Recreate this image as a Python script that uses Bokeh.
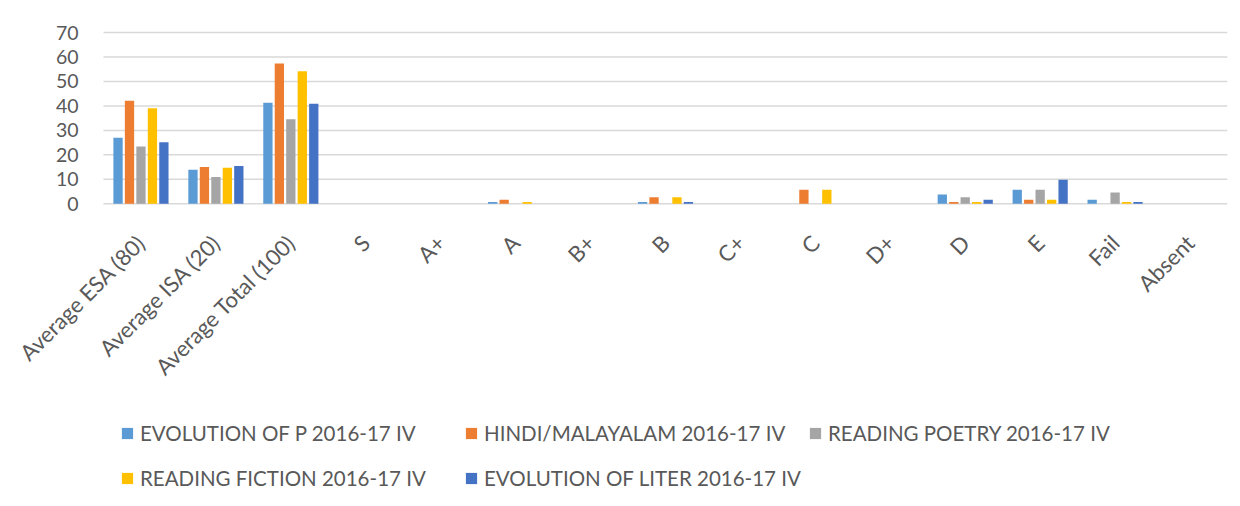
from bokeh.plotting import figure
from bokeh.models import Range1d, Legend, LegendItem, ColumnDataSource
from bokeh.core.properties import value
from bokeh.embed import file_html
from bokeh.resources import INLINE
import math

categories = ["Average ESA (80)", "Average ISA (20)", "Average Total (100)", "S", "A+", "A",
              "B+", "B", "C+", "C", "D+", "D", "E", "Fail", "Absent"]
series_names = ["EVOLUTION OF P 2016-17 IV", "HINDI/MALAYALAM 2016-17 IV",
                "READING POETRY 2016-17 IV", "READING FICTION 2016-17 IV",
                "EVOLUTION OF LITER 2016-17 IV"]
evolution_p = [27.0, 13.9, 41.3, 0, 0, 0.7, 0, 0.7, 0, 0, 0, 3.8, 5.7, 1.7, 0]
hindi_mal = [42.1, 15.0, 57.3, 0, 0, 1.7, 0, 2.7, 0, 5.7, 0, 0.7, 1.7, 0, 0]
reading_poetry = [23.4, 11.0, 34.5, 0, 0, 0, 0, 0, 0, 0, 0, 2.7, 5.7, 4.6, 0]
reading_fiction = [39.0, 14.7, 54.2, 0, 0, 0.7, 0, 2.7, 0, 5.7, 0, 0.7, 1.7, 0.7, 0]
evolution_liter = [25.2, 15.4, 40.9, 0, 0, 0, 0, 0.7, 0, 0, 0, 1.7, 9.8, 0.7, 0]
y_ticks = [0, 10, 20, 30, 40, 50, 60, 70]

colors = ["#5B9BD5", "#ED7D31", "#A5A5A5", "#FFC000", "#4472C4"]
values = [evolution_p, hindi_mal, reading_poetry, reading_fiction, evolution_liter]

FONT = "Lato"
TXT = "#595959"
GRID = "#D9D9D9"

n_cat = len(categories)
idx = list(range(n_cat))
cat_src = ColumnDataSource({"x": idx, "zero": [0] * n_cat, "label": categories})

# layout geometry (pixels)
px_per_cat = 1124 / n_cat
px_per_unit = 171.3 / 70
left_px = 93                       # room left of the first category for labels
top_px = 12                        # room above the top gridline for its label
frame_w = 1217
frame_h = 475
x_start = -0.5 - left_px / px_per_cat
y_end = 70 + top_px / px_per_unit
y_start = y_end - frame_h / px_per_unit

p = figure(frame_width=frame_w, frame_height=frame_h,
           x_range=Range1d(x_start, n_cat - 0.5), y_range=Range1d(y_start, y_end),
           output_backend="svg", toolbar_location=None,
           x_axis_location=None, y_axis_location=None,
           min_border_left=10, min_border_right=5, min_border_top=20, min_border_bottom=0)
p.outline_line_color = None
p.grid.visible = False

# value gridlines across the category span
p.segment(x0=[-0.5] * len(y_ticks), x1=[n_cat - 0.5] * len(y_ticks), y0=y_ticks, y1=y_ticks,
          line_color=GRID, line_width=1.5)

# value tick labels
p.text(x=[-0.5] * len(y_ticks), y=y_ticks, text=[str(t) for t in y_ticks], x_offset=-25,
       text_align="right", text_baseline="middle",
       text_font=value(FONT), text_font_size=value("19.5px"), text_color=TXT)

pitch = 0.153
items = []
for i, (v, c, n) in enumerate(zip(values, colors, series_names)):
    src = ColumnDataSource({"x": [j + (i - 2) * pitch for j in idx], "top": v})
    r = p.vbar(x="x", top="top", width=0.124, source=src, fill_color=c, line_color=None)
    items.append(LegendItem(label=n, renderers=[r]))

# category labels, rotated 45 degrees, ending just under each category
p.text(x="x", y="zero", text="label", source=cat_src, angle=math.pi / 4,
       text_align="right", text_baseline="middle", x_offset=0, y_offset=35,
       text_font=value(FONT), text_font_size=value("22px"), text_color=TXT)

common = dict(orientation="horizontal", label_text_font=FONT, label_text_font_size="20.5px",
              label_text_color=TXT, glyph_width=14, glyph_height=14, label_standoff=6,
              spacing=6, label_height=21, label_width=318, border_line_color=None,
              background_fill_alpha=0, margin=0, padding=0)
legend1 = Legend(items=items[:3], location=(110, 50), **common)
legend2 = Legend(items=items[3:], location=(110, 5), **common)
p.add_layout(legend1, "center")
p.add_layout(legend2, "center")

open("out.html", "w").write(file_html(p, INLINE))
